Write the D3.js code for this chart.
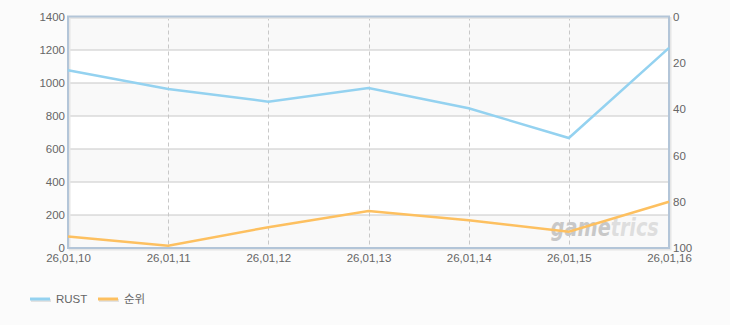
<!DOCTYPE html>
<html>
<head>
<meta charset="utf-8">
<script src="https://cdn.jsdelivr.net/npm/d3@7"></script>
<style>
	body { margin: 0; background: #fbfbfb; }
	svg { display: block; font-family: "Liberation Sans", "Noto Sans CJK KR", sans-serif; }
	.tick text { fill: #666; font-size: 11.5px; font-family: "Liberation Sans", sans-serif; }
</style>
</head>
<body>
<div id="chart"></div>
<script>
// values
var dates = ["26,01,10", "26,01,11", "26,01,12", "26,01,13", "26,01,14", "26,01,15", "26,01,16"];
var rust = [1075, 962, 885, 968, 845, 665, 1210];
var rank = [95, 99, 91, 84, 88, 93, 80];
var leftTicks = [0, 200, 400, 600, 800, 1000, 1200, 1400];
var rightTicks = [0, 20, 40, 60, 80, 100];

var margin = {top: 16.5, right: 61, bottom: 77, left: 68},
	width = 730 - margin.left - margin.right,
	height = 325 - margin.top - margin.bottom;

var svg = d3.select("#chart").append("svg")
		.attr("width", 730)
		.attr("height", 325);

var chart = svg.append("g")
		.attr("transform", `translate(${margin.left}, ${margin.top})`);

var x = d3.scalePoint()
		.domain(dates)
		.range([0, width]);
var yl = d3.scaleLinear()
		.domain([0, 1400])
		.range([height, 0]);
var yr = d3.scaleLinear()
		.domain([0, 100])
		.range([0, height]);

// alternating bands
chart.selectAll(".band")
		.data(d3.pairs(leftTicks))
	.enter().append("rect")
		.attr("class", "band")
		.attr("x", 0)
		.attr("width", width)
		.attr("y", d => yl(d[1]))
		.attr("height", d => yl(d[0]) - yl(d[1]))
		.attr("fill", (d, i) => i % 2 ? "#ffffff" : "#f9f9f9");

// horizontal grid
chart.selectAll(".hgrid")
		.data(leftTicks.slice(1, -1))
	.enter().append("line")
		.attr("x1", 0)
		.attr("x2", width)
		.attr("y1", d => Math.round(yl(d)) + 0.5)
		.attr("y2", d => Math.round(yl(d)) + 0.5)
		.attr("stroke", "#c8c8c8");

// vertical dashed grid
chart.selectAll(".vgrid")
		.data(dates.slice(1, -1))
	.enter().append("line")
		.attr("x1", d => Math.round(x(d)) + 0.5)
		.attr("x2", d => Math.round(x(d)) + 0.5)
		.attr("y1", 0)
		.attr("y2", height)
		.attr("stroke", "#c8c8c8")
		.attr("stroke-dasharray", "4,3");

// watermark
var wm = chart.append("text")
		.attr("x", x(dates[5]) - 18)
		.attr("y", height - 12)
		.attr("font-size", 24)
		.attr("font-weight", "bold")
		.attr("font-style", "italic")
		.attr("textLength", 108)
		.attr("lengthAdjust", "spacingAndGlyphs")
		.attr("font-family", "'DejaVu Sans', sans-serif");
wm.append("tspan").attr("fill", "#c8c8c8").text("game");
wm.append("tspan").attr("fill", "#dedede").text("trics");

// frame shadow + border
chart.append("rect")
		.attr("x", 1.5)
		.attr("y", 1.5)
		.attr("width", width)
		.attr("height", height)
		.attr("fill", "none")
		.attr("stroke", "#e6e6e6")
		.attr("stroke-width", 2);
chart.append("rect")
		.attr("x", 0)
		.attr("y", 0)
		.attr("width", width)
		.attr("height", height)
		.attr("fill", "none")
		.attr("stroke", "#b3c5d8")
		.attr("stroke-width", 2);

var line = (ys, vals) => d3.line()
		.x((d, i) => x(dates[i]))
		.y(d => ys(d))(vals);

chart.append("path")
		.attr("d", line(yl, rust))
		.attr("fill", "none")
		.attr("stroke", "#94d2f0")
		.attr("stroke-width", 2.5);

chart.append("path")
		.attr("d", line(yr, rank))
		.attr("fill", "none")
		.attr("stroke", "#fdc060")
		.attr("stroke-width", 2.5);

// axes
chart.append("g")
		.call(d3.axisLeft(yl).tickValues(leftTicks).tickFormat(d3.format("d")).tickSize(0).tickPadding(3))
		.call(g => g.select(".domain").remove());

chart.append("g")
		.attr("transform", `translate(${width}, 0)`)
		.call(d3.axisRight(yr).tickValues(rightTicks).tickSize(0).tickPadding(4))
		.call(g => g.select(".domain").remove());

chart.append("g")
		.attr("transform", `translate(0, ${height})`)
		.call(d3.axisBottom(x).tickSize(0).tickPadding(6))
		.call(g => g.select(".domain").remove());

// legend
var legend = svg.append("g")
		.attr("transform", "translate(30, 299)")
	.selectAll("g")
		.data([{name: "RUST", color: "#94d2f0"}, {name: "순위", color: "#fdc060"}])
	.enter().append("g")
		.attr("transform", (d, i) => `translate(${i * 68}, 0)`);

legend.append("line")
		.attr("x1", 1).attr("x2", 21)
		.attr("y1", 1.5).attr("y2", 1.5)
		.attr("stroke", "#e2e2e2")
		.attr("stroke-width", 3);
legend.append("line")
		.attr("x1", 0).attr("x2", 20)
		.attr("y1", 0).attr("y2", 0)
		.attr("stroke", d => d.color)
		.attr("stroke-width", 3);
legend.append("text")
		.attr("x", 26)
		.attr("y", 4)
		.attr("font-size", 11.5)
		.attr("fill", "#666")
		.text(d => d.name);
</script>
</body>
</html>
